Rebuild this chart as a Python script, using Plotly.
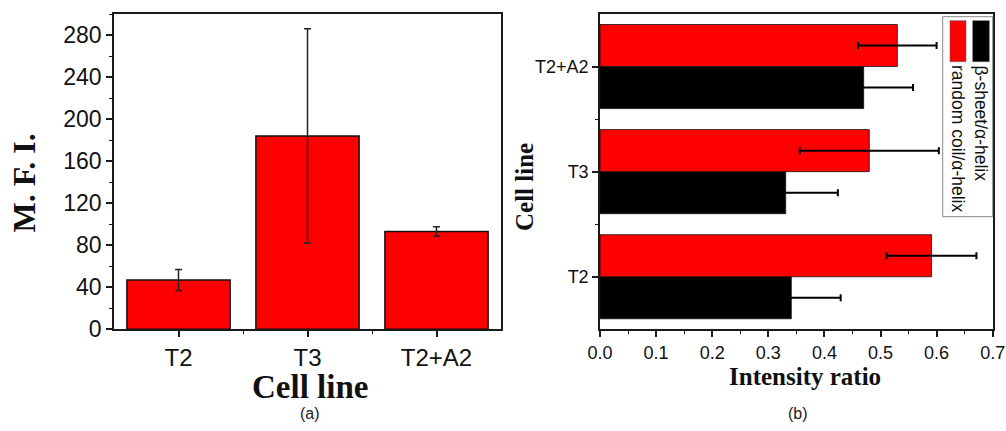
import plotly.graph_objects as go

# ---------------- data ----------------
cells_a = ["T2", "T3", "T2+A2"]
mfi = [47, 184, 93]
mfi_err = [10, 102, 4.5]

cells_b = ["T2", "T3", "T2+A2"]
beta_sheet = [0.341, 0.331, 0.470]
beta_sheet_err = [0.088, 0.093, 0.088]
random_coil = [0.591, 0.480, 0.530]
random_coil_err = [0.080, 0.124, 0.070]

series_names = ["β-sheet/α-helix", "random coil/α-helix"]
yticks_a = [0, 40, 80, 120, 160, 200, 240, 280]

W, H = 1006, 431
def px(x):
    return x / W
def py(y):
    return 1 - y / H

RED = "#ff0000"
BLACK = "#000000"
AX = "#1a1a1a"
SANS = "Liberation Sans, Arial, sans-serif"
SERIF = "Liberation Serif, Times New Roman, serif"

fig = go.Figure()

pos_a = list(range(len(cells_a)))
fig.add_trace(go.Bar(
    x=pos_a, y=mfi, xaxis="x", yaxis="y",
    marker=dict(color=RED, line=dict(color="#111", width=1.5)),
    error_y=dict(type="data", array=mfi_err, color="#222", thickness=1.5, width=3.5),
    showlegend=False,
))

pos_b = list(range(len(cells_b)))
fig.add_trace(go.Bar(
    y=pos_b, x=beta_sheet, orientation="h", xaxis="x2", yaxis="y2",
    name=series_names[0],
    marker=dict(color=BLACK, line=dict(color="#111", width=0.8)),
    error_x=dict(type="data", array=beta_sheet_err, color=BLACK, thickness=2, width=3.5),
    showlegend=False,
))
fig.add_trace(go.Bar(
    y=pos_b, x=random_coil, orientation="h", xaxis="x2", yaxis="y2",
    name=series_names[1],
    marker=dict(color=RED, line=dict(color="#111", width=0.8)),
    error_x=dict(type="data", array=random_coil_err, color=BLACK, thickness=2, width=3.5),
    showlegend=False,
))

axis_common = dict(showline=True, linecolor=AX, linewidth=1.5, mirror=True,
                   ticks="outside", tickcolor=AX, tickwidth=1.5, ticklen=6,
                   showgrid=False, zeroline=False, automargin=False)

fig.update_layout(
    template="none",
    width=W, height=H,
    margin=dict(l=0, r=0, t=0, b=0),
    paper_bgcolor="white", plot_bgcolor="white",
    barmode="group", bargap=0.2, bargroupgap=0,
    xaxis=dict(domain=[px(114), px(501)], anchor="y",
               range=[-0.5, len(cells_a) - 0.5],
               tickvals=pos_a, ticktext=cells_a,
               tickfont=dict(family=SANS, size=24, color="#111"),
               minor=dict(tickvals=[0.5, 1.5], ticks="outside", ticklen=3, tickcolor=AX, tickwidth=1.2),
               **axis_common),
    yaxis=dict(domain=[py(329.3), py(14)], anchor="x",
               range=[0, 300], tickvals=yticks_a,
               tickfont=dict(family=SANS, size=23, color="#111"),
               minor=dict(dtick=20, ticks="outside", ticklen=3, tickcolor=AX, tickwidth=1.2),
               **axis_common),
    xaxis2=dict(domain=[px(600), px(992.7)], anchor="y2",
                range=[0, 0.7], dtick=0.1, tickformat=".1f",
                tickfont=dict(family=SANS, size=18, color="#111"),
                minor=dict(dtick=0.05, ticks="outside", ticklen=3, tickcolor=AX, tickwidth=1.2),
                **axis_common),
    yaxis2=dict(domain=[py(329.3), py(14)], anchor="x2",
                range=[-0.5, len(cells_b) - 0.5],
                tickvals=pos_b, ticktext=cells_b,
                tickfont=dict(family=SANS, size=18, color="#111"),
                minor=dict(tickvals=[0.5, 1.5], ticks="outside", ticklen=3, tickcolor=AX, tickwidth=1.2),
                **axis_common),
)

ann = []
ann.append(dict(text="<b>M. F. I.</b>", x=px(23.5), y=py(183), textangle=-90,
                font=dict(family=SERIF, size=32, color="#111")))
ann.append(dict(text="<b>Cell line</b>", x=px(310), y=py(387),
                font=dict(family=SERIF, size=33, color="#111")))
ann.append(dict(text="(a)", x=px(310), y=py(413), font=dict(family=SANS, size=16, color="#222")))
ann.append(dict(text="<b>Intensity ratio</b>", x=px(805), y=py(376),
                font=dict(family=SERIF, size=25, color="#111")))
ann.append(dict(text="<b>Cell line</b>", x=px(524), y=py(187), textangle=-90,
                font=dict(family=SERIF, size=25, color="#111")))
ann.append(dict(text="(b)", x=px(798), y=py(413), font=dict(family=SANS, size=16, color="#222")))
# rotated legend texts
ann.append(dict(text=series_names[0], x=px(980.5), y=py(63), yanchor="top", textangle=90,
                font=dict(family=SANS, size=17.5, color="#111")))
ann.append(dict(text=series_names[1], x=px(958), y=py(63), yanchor="top", textangle=90,
                font=dict(family=SANS, size=17.5, color="#111")))
for a in ann:
    a.update(xref="paper", yref="paper", showarrow=False)
    a.setdefault("xanchor", "center")
    a.setdefault("yanchor", "middle")
fig.update_layout(annotations=ann)

shapes = [
    dict(type="rect", x0=px(942.7), x1=px(992.7), y0=py(216.7), y1=py(16.7),
         line=dict(color="#888", width=1), fillcolor="white", layer="above"),
    dict(type="rect", x0=px(950), x1=px(966), y0=py(61.7), y1=py(20.7),
         line=dict(color="#555", width=0.5), fillcolor=RED, layer="above"),
    dict(type="rect", x0=px(972.7), x1=px(989.3), y0=py(61.7), y1=py(20.7),
         line=dict(color="#555", width=0.5), fillcolor=BLACK, layer="above"),
]
for s in shapes:
    s.update(xref="paper", yref="paper")
fig.update_layout(shapes=shapes)

fig.write_html("out.html")
